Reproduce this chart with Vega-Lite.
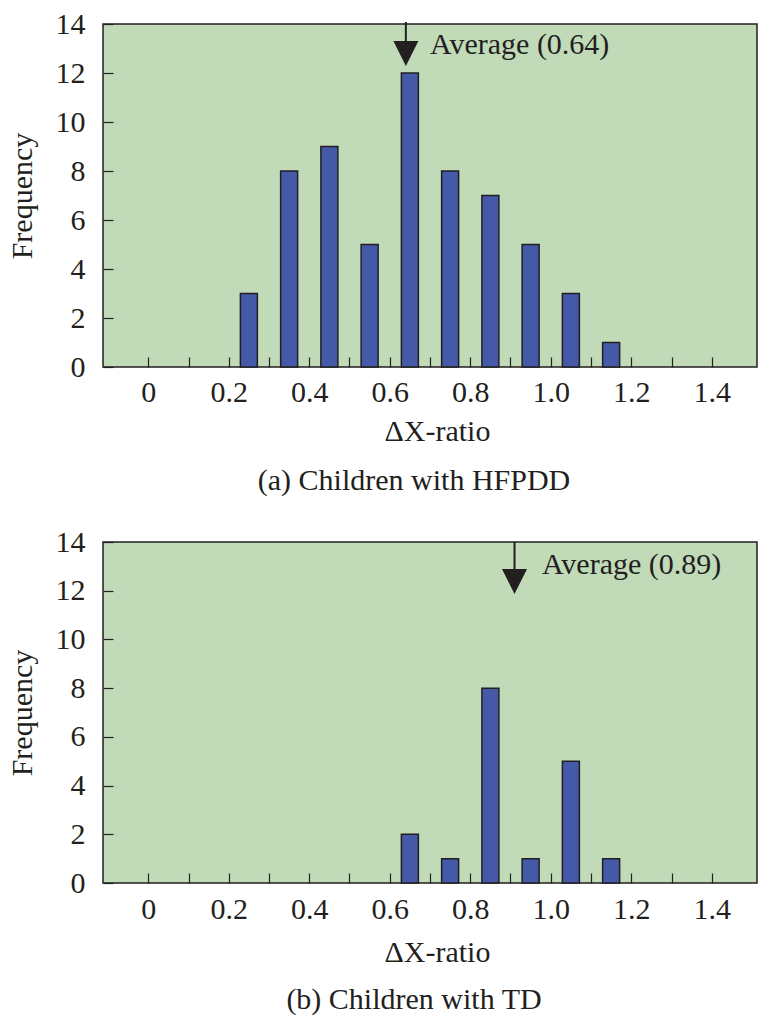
{
  "$schema": "https://vega.github.io/schema/vega-lite/v6.json",
  "background": "white",
  "padding": {"left": 6, "top": 8, "right": 3, "bottom": 3},
  "spacing": 29,
  "config": {
    "font": "Liberation Serif",
    "view": {"fill": "#C1DAB8", "stroke": "#231F20", "strokeWidth": 1.5},
    "axis": {
      "grid": false, "domain": false, "tickColor": "#231F20", "tickWidth": 1.2,
      "labelFont": "Liberation Serif", "labelFontSize": 30, "labelColor": "#231F20",
      "titleFont": "Liberation Serif", "titleFontSize": 30, "titleFontWeight": "normal", "titleColor": "#231F20",
      "labelOverlap": false, "labelFlush": false
    },
    "title": {"font": "Liberation Serif", "fontSize": 30, "fontWeight": "normal", "color": "#231F20"}
  },
  "datasets": {
    "hfpdd": [
      {"ratio": 0.25, "count": 3}, {"ratio": 0.35, "count": 8}, {"ratio": 0.45, "count": 9},
      {"ratio": 0.55, "count": 5}, {"ratio": 0.65, "count": 12}, {"ratio": 0.75, "count": 8},
      {"ratio": 0.85, "count": 7}, {"ratio": 0.95, "count": 5}, {"ratio": 1.05, "count": 3},
      {"ratio": 1.15, "count": 1}
    ],
    "td": [
      {"ratio": 0.65, "count": 2}, {"ratio": 0.75, "count": 1}, {"ratio": 0.85, "count": 8},
      {"ratio": 0.95, "count": 1}, {"ratio": 1.05, "count": 5}, {"ratio": 1.15, "count": 1}
    ],
    "avgA": [{"avg": 0.64, "top": 14.08, "stem": 13.27, "head": 12.8, "tx": 0.70, "ty": 12.78, "label": "Average (0.64)"}],
    "avgB": [{"avg": 0.91, "top": 14.0, "stem": 12.85, "head": 12.38, "tx": 0.978, "ty": 12.68, "label": "Average (0.89)"}]
  },
  "vconcat": [
    {
      "width": 654, "height": 343,
      "title": {"text": "(a) Children with HFPDD", "orient": "bottom", "anchor": "middle", "dx": -16, "offset": 20},
      "layer": [
        {
          "data": {"name": "hfpdd"},
          "mark": {"type": "bar", "size": 17, "fill": "#4459A7", "stroke": "#231F20", "strokeWidth": 1.5},
          "encoding": {
            "x": {"field": "ratio", "type": "quantitative",
              "scale": {"domain": [-0.1, 1.5], "nice": false, "zero": false},
              "axis": {"title": "ΔX-ratio", "values": [0,0.1,0.2,0.3,0.4,0.5,0.6,0.7,0.8,0.9,1.0,1.1,1.2,1.3,1.4],
                "labelExpr": "round(datum.value*10) % 2 == 0 ? (datum.value == 0 ? '0' : format(datum.value, '.1f')) : ''",
                "tickSize": -10, "labelPadding": 20, "titlePadding": 9, "titleX": 334}},
            "y": {"field": "count", "type": "quantitative",
              "scale": {"domain": [0, 14], "nice": false},
              "axis": {"title": "Frequency", "values": [0,2,4,6,8,10,12,14], "tickSize": -10, "labelPadding": 28, "titlePadding": 18}}
          }
        },
        {
          "data": {"name": "avgA"},
          "mark": {"type": "rule", "stroke": "#231F20", "strokeWidth": 2},
          "encoding": {"x": {"field": "avg", "type": "quantitative"}, "y": {"field": "top", "type": "quantitative"}, "y2": {"field": "stem"}}
        },
        {
          "data": {"name": "avgA"},
          "mark": {"type": "point", "shape": "M-1,-1L1,-1L0,1Z", "size": 625, "filled": true, "fill": "#231F20", "opacity": 1, "strokeWidth": 0},
          "encoding": {"x": {"field": "avg", "type": "quantitative"}, "y": {"field": "head", "type": "quantitative"}}
        },
        {
          "data": {"name": "avgA"},
          "mark": {"type": "text", "align": "left", "baseline": "alphabetic", "fontSize": 30, "font": "Liberation Serif", "fill": "#231F20"},
          "encoding": {"x": {"field": "tx", "type": "quantitative"}, "y": {"field": "ty", "type": "quantitative"}, "text": {"field": "label"}}
        }
      ]
    },
    {
      "width": 654, "height": 341,
      "title": {"text": "(b) Children with TD", "orient": "bottom", "anchor": "middle", "dx": -16, "offset": 18},
      "layer": [
        {
          "data": {"name": "td"},
          "mark": {"type": "bar", "size": 17, "fill": "#4459A7", "stroke": "#231F20", "strokeWidth": 1.5},
          "encoding": {
            "x": {"field": "ratio", "type": "quantitative",
              "scale": {"domain": [-0.1, 1.5], "nice": false, "zero": false},
              "axis": {"title": "ΔX-ratio", "values": [0,0.1,0.2,0.3,0.4,0.5,0.6,0.7,0.8,0.9,1.0,1.1,1.2,1.3,1.4],
                "labelExpr": "round(datum.value*10) % 2 == 0 ? (datum.value == 0 ? '0' : format(datum.value, '.1f')) : ''",
                "tickSize": -10, "labelPadding": 21, "titlePadding": 13, "titleX": 334}},
            "y": {"field": "count", "type": "quantitative",
              "scale": {"domain": [0, 14], "nice": false},
              "axis": {"title": "Frequency", "values": [0,2,4,6,8,10,12,14], "tickSize": -10, "labelPadding": 28, "titlePadding": 18}}
          }
        },
        {
          "data": {"name": "avgB"},
          "mark": {"type": "rule", "stroke": "#231F20", "strokeWidth": 2},
          "encoding": {"x": {"field": "avg", "type": "quantitative"}, "y": {"field": "top", "type": "quantitative"}, "y2": {"field": "stem"}}
        },
        {
          "data": {"name": "avgB"},
          "mark": {"type": "point", "shape": "M-1,-1L1,-1L0,1Z", "size": 625, "filled": true, "fill": "#231F20", "opacity": 1, "strokeWidth": 0},
          "encoding": {"x": {"field": "avg", "type": "quantitative"}, "y": {"field": "head", "type": "quantitative"}}
        },
        {
          "data": {"name": "avgB"},
          "mark": {"type": "text", "align": "left", "baseline": "alphabetic", "fontSize": 30, "font": "Liberation Serif", "fill": "#231F20"},
          "encoding": {"x": {"field": "tx", "type": "quantitative"}, "y": {"field": "ty", "type": "quantitative"}, "text": {"field": "label"}}
        }
      ]
    }
  ]
}
